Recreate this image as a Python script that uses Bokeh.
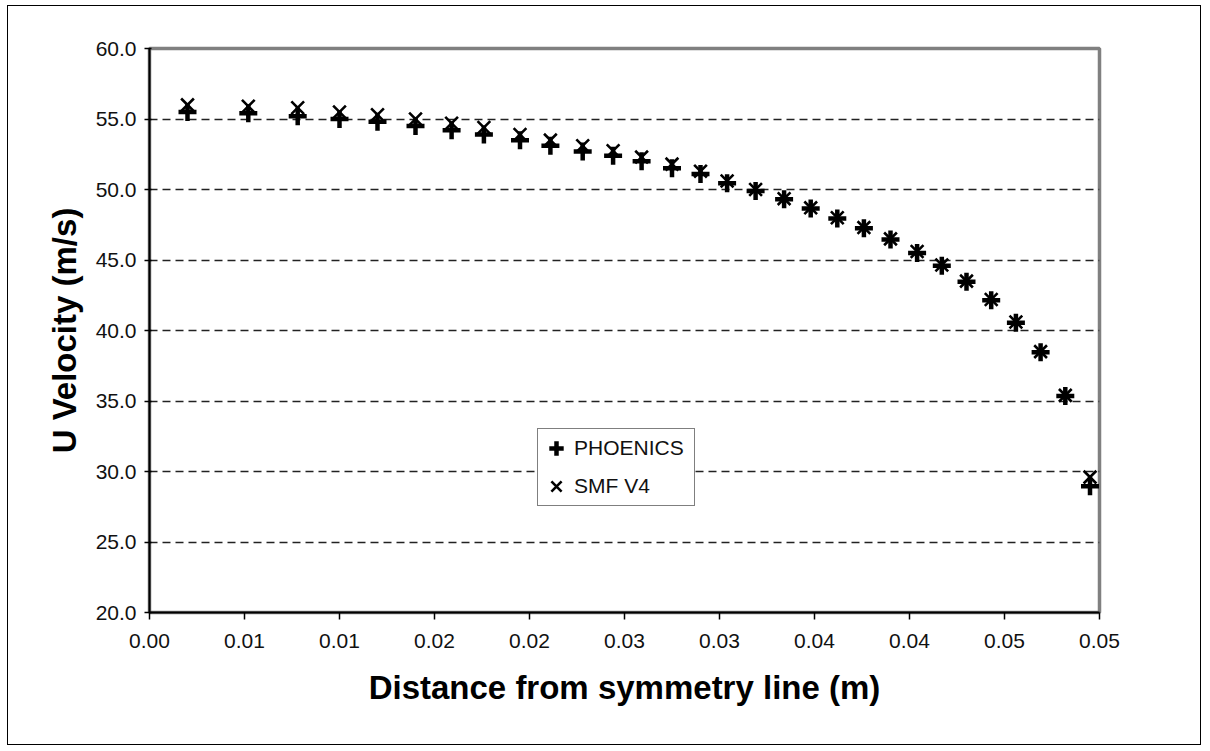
from bokeh.plotting import figure
from bokeh.models import FixedTicker, Legend, LegendItem, Range1d, ColumnDataSource
from bokeh.embed import file_html
from bokeh.resources import INLINE

# ---- data ----
dist = [0.0020, 0.0052, 0.0078, 0.0100, 0.0120, 0.0140, 0.0159, 0.0176, 0.0195, 0.0211,
        0.0228, 0.0244, 0.0259, 0.0275, 0.0290, 0.0304, 0.0319, 0.0334, 0.0348, 0.0362,
        0.0376, 0.0390, 0.0404, 0.0417, 0.0430, 0.0443, 0.0456, 0.0469, 0.0482, 0.0495]
phoenics = [55.5, 55.4, 55.2, 55.0, 54.8, 54.5, 54.2, 53.9, 53.5, 53.1,
            52.7, 52.4, 52.0, 51.5, 51.1, 50.45, 49.9, 49.3, 48.65, 47.95,
            47.25, 46.45, 45.5, 44.6, 43.45, 42.15, 40.55, 38.45, 35.35, 28.95]
smf_v4 = [56.0, 55.9, 55.8, 55.5, 55.3, 55.0, 54.7, 54.4, 53.9, 53.5,
          53.1, 52.75, 52.3, 51.8, 51.3, 50.6, 50.0, 49.35, 48.7, 48.0,
          47.3, 46.5, 45.6, 44.65, 43.5, 42.2, 40.6, 38.5, 35.4, 29.6]

x_ticks = [0.0, 0.005, 0.01, 0.015, 0.02, 0.025, 0.03, 0.035, 0.04, 0.045, 0.05]
x_tick_labels = ["0.00", "0.01", "0.01", "0.02", "0.02", "0.03", "0.03", "0.04", "0.04", "0.05", "0.05"]
y_ticks = [20, 25, 30, 35, 40, 45, 50, 55, 60]
y_tick_labels = ["20.0", "25.0", "30.0", "35.0", "40.0", "45.0", "50.0", "55.0", "60.0"]
grid_levels = [25, 30, 35, 40, 45, 50, 55]

x_title = "Distance from symmetry line (m)"
y_title = "U Velocity (m/s)"
series_names = ["PHOENICS", "SMF V4"]

FONT = "Liberation Sans"

p = figure(width=1194, height=740, output_backend="svg", toolbar_location=None,
           x_range=Range1d(0, 0.05), y_range=Range1d(20, 60),
           min_border_left=141, min_border_right=103, min_border_top=42, min_border_bottom=134)
p.styles = {"margin-left": "7px", "margin-top": "5px", "border": "1.5px solid #000000"}

p.background_fill_color = "white"
p.border_fill_color = "white"
p.outline_line_color = "#808080"
p.outline_line_width = 3.5

# axes
p.xaxis.ticker = FixedTicker(ticks=x_ticks)
p.xaxis.major_label_overrides = {t: l for t, l in zip(x_ticks, x_tick_labels)}
p.yaxis.ticker = FixedTicker(ticks=y_ticks)
p.yaxis.major_label_overrides = {t: l for t, l in zip(y_ticks, y_tick_labels)}
for ax in (p.xaxis[0], p.yaxis[0]):
    ax.axis_line_color = "black"
    ax.axis_line_width = 2
    ax.major_tick_line_color = "black"
    ax.major_tick_line_width = 1.5
    ax.minor_tick_line_color = None
    ax.major_label_text_font = FONT
    ax.major_label_text_font_size = "21px"
    ax.major_label_text_color = "#111111"
    ax.axis_label_text_font = FONT
    ax.axis_label_text_font_size = "33px"
    ax.axis_label_text_font_style = "bold"
    ax.axis_label_text_color = "black"
p.xaxis.major_tick_out = 7
p.xaxis.major_tick_in = 0
p.yaxis.major_tick_out = 5
p.yaxis.major_tick_in = 2
p.xaxis.major_label_standoff = 14
p.yaxis.major_label_standoff = 8
p.xaxis.axis_label = x_title
p.yaxis.axis_label = y_title
p.xaxis.axis_label_standoff = 18
p.yaxis.axis_label_standoff = 10

# grid
p.xgrid.grid_line_color = None
p.ygrid.ticker = FixedTicker(ticks=grid_levels)
p.ygrid.grid_line_color = "#222222"
p.ygrid.grid_line_dash = "8 5"
p.ygrid.grid_line_width = 1.3

src = ColumnDataSource(dict(x=dist, ph=phoenics, smf=smf_v4))
r_smf = p.scatter("x", "smf", source=src, marker="x", size=18,
                  line_color="black", line_width=2.6)
r_ph = p.scatter("x", "ph", source=src, marker="cross", size=18,
                 line_color="black", line_width=4.5)

legend = Legend(items=[LegendItem(label=series_names[0], renderers=[r_ph]),
                       LegendItem(label=series_names[1], renderers=[r_smf])],
                location=(388, 106), margin=0, padding=0, spacing=0,
                glyph_height=38, glyph_width=36, label_standoff=0, label_width=120,
                label_text_font=FONT, label_text_font_size="21px",
                label_text_color="#111111",
                border_line_color="black", border_line_width=1.5,
                background_fill_color="white", background_fill_alpha=1.0)
p.add_layout(legend)

open("out.html", "w").write(file_html(p, INLINE))
